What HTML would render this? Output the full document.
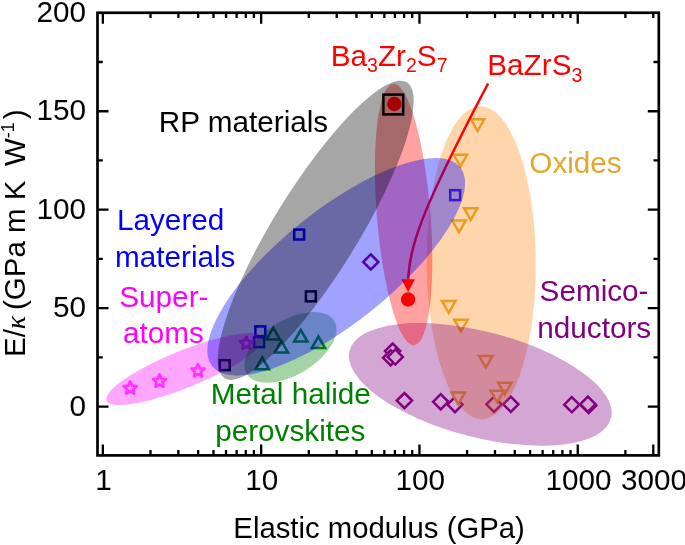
<!DOCTYPE html><html><head><meta charset="utf-8"><style>html,body{margin:0;padding:0;background:#fff}svg{display:block}</style></head><body><svg width="685" height="545" viewBox="0 0 685 545" font-family="Liberation Sans, sans-serif">
<rect width="685" height="545" fill="#fff"/>
<rect x="294.2" y="229.6" width="9.9" height="9.9" fill="#fff" stroke="#0000ff" stroke-width="2.5"/>
<rect x="255.4" y="326.4" width="9.9" height="9.9" fill="#fff" stroke="#0000ff" stroke-width="2.5"/>
<rect x="254.1" y="337.2" width="9.9" height="9.9" fill="#fff" stroke="#0000ff" stroke-width="2.5"/>
<rect x="450.2" y="190.2" width="9.9" height="9.9" fill="#fff" stroke="#0000ff" stroke-width="2.5"/>
<rect x="305.9" y="291.4" width="9.9" height="9.9" fill="#fff" stroke="#000" stroke-width="2.5"/>
<rect x="219.8" y="360.2" width="9.9" height="9.9" fill="#fff" stroke="#000" stroke-width="2.5"/>
<path d="M273.2 327.7L279.9 339.4L266.5 339.4Z" fill="#fff" stroke="#008000" stroke-width="2.5"/>
<path d="M281.4 340.9L288.1 352.6L274.7 352.6Z" fill="#fff" stroke="#008000" stroke-width="2.5"/>
<path d="M300.8 330.0L307.5 341.6L294.1 341.6Z" fill="#fff" stroke="#008000" stroke-width="2.5"/>
<path d="M318.4 336.5L325.1 348.1L311.7 348.1Z" fill="#fff" stroke="#008000" stroke-width="2.5"/>
<path d="M262.3 357.6L269.0 369.2L255.6 369.2Z" fill="#fff" stroke="#008000" stroke-width="2.5"/>
<path d="M370.8 254.4L378.4 262.0L370.8 269.6L363.2 262.0Z" fill="#fff" stroke="#800080" stroke-width="2.5" stroke-linejoin="miter"/>
<path d="M392.6 343.5L400.2 351.1L392.6 358.7L385.0 351.1Z" fill="#fff" stroke="#800080" stroke-width="2.5" stroke-linejoin="miter"/>
<path d="M390.7 350.2L398.3 357.8L390.7 365.4L383.1 357.8Z" fill="#fff" stroke="#800080" stroke-width="2.5" stroke-linejoin="miter"/>
<path d="M395.3 349.4L402.9 357.0L395.3 364.6L387.7 357.0Z" fill="#fff" stroke="#800080" stroke-width="2.5" stroke-linejoin="miter"/>
<path d="M404.4 393.0L412.0 400.6L404.4 408.2L396.8 400.6Z" fill="#fff" stroke="#800080" stroke-width="2.5" stroke-linejoin="miter"/>
<path d="M440.7 394.2L448.3 401.8L440.7 409.4L433.1 401.8Z" fill="#fff" stroke="#800080" stroke-width="2.5" stroke-linejoin="miter"/>
<path d="M455.0 397.0L462.6 404.6L455.0 412.2L447.4 404.6Z" fill="#fff" stroke="#800080" stroke-width="2.5" stroke-linejoin="miter"/>
<path d="M494.0 396.7L501.6 404.3L494.0 411.9L486.4 404.3Z" fill="#fff" stroke="#800080" stroke-width="2.5" stroke-linejoin="miter"/>
<path d="M510.8 396.7L518.4 404.3L510.8 411.9L503.2 404.3Z" fill="#fff" stroke="#800080" stroke-width="2.5" stroke-linejoin="miter"/>
<path d="M571.8 397.1L579.4 404.7L571.8 412.3L564.2 404.7Z" fill="#fff" stroke="#800080" stroke-width="2.5" stroke-linejoin="miter"/>
<path d="M588.7 397.8L596.3 405.4L588.7 413.0L581.1 405.4Z" fill="#fff" stroke="#800080" stroke-width="2.5" stroke-linejoin="miter"/>
<path d="M587.9 396.6L595.5 404.2L587.9 411.8L580.3 404.2Z" fill="#fff" stroke="#800080" stroke-width="2.5" stroke-linejoin="miter"/>
<path d="M477.6 131.0L484.3 119.3L470.9 119.3Z" fill="#fff" stroke="#e0aa30" stroke-width="2.5"/>
<path d="M460.4 166.4L467.1 154.8L453.7 154.8Z" fill="#fff" stroke="#e0aa30" stroke-width="2.5"/>
<path d="M470.7 219.8L477.4 208.2L464.0 208.2Z" fill="#fff" stroke="#e0aa30" stroke-width="2.5"/>
<path d="M459.0 232.2L465.7 220.6L452.3 220.6Z" fill="#fff" stroke="#e0aa30" stroke-width="2.5"/>
<path d="M448.7 312.8L455.4 301.1L442.0 301.1Z" fill="#fff" stroke="#e0aa30" stroke-width="2.5"/>
<path d="M461.0 331.4L467.7 319.8L454.3 319.8Z" fill="#fff" stroke="#e0aa30" stroke-width="2.5"/>
<path d="M485.8 367.6L492.5 355.9L479.1 355.9Z" fill="#fff" stroke="#e0aa30" stroke-width="2.5"/>
<path d="M504.9 394.4L511.6 382.8L498.2 382.8Z" fill="#fff" stroke="#e0aa30" stroke-width="2.5"/>
<path d="M497.3 402.4L504.0 390.8L490.6 390.8Z" fill="#fff" stroke="#e0aa30" stroke-width="2.5"/>
<path d="M458.2 404.3L464.9 392.6L451.5 392.6Z" fill="#fff" stroke="#e0aa30" stroke-width="2.5"/>
<path d="M130.2 381.5L132.1 385.7L136.6 386.1L133.2 389.2L134.1 393.6L130.2 391.3L126.3 393.6L127.2 389.2L123.8 386.1L128.3 385.7Z" fill="none" stroke="#ff50ff" stroke-width="2.9" stroke-linejoin="round"/>
<path d="M159.5 374.6L161.4 378.8L165.9 379.2L162.5 382.3L163.4 386.7L159.5 384.4L155.6 386.7L156.5 382.3L153.1 379.2L157.6 378.8Z" fill="none" stroke="#ff50ff" stroke-width="2.9" stroke-linejoin="round"/>
<path d="M197.9 364.2L199.8 368.4L204.3 368.8L200.9 371.9L201.8 376.3L197.9 374.0L194.0 376.3L194.9 371.9L191.5 368.8L196.0 368.4Z" fill="none" stroke="#ff50ff" stroke-width="2.9" stroke-linejoin="round"/>
<path d="M246.3 336.7L248.2 340.9L252.7 341.3L249.3 344.4L250.2 348.8L246.3 346.5L242.4 348.8L243.3 344.4L239.9 341.3L244.4 340.9Z" fill="none" stroke="#ff50ff" stroke-width="2.9" stroke-linejoin="round"/>
<circle cx="394.3" cy="104" r="7.2" fill="#f00"/>
<ellipse cx="481.2" cy="262.8" rx="54.6" ry="156.6" transform="rotate(-0.3 481.2 262.8)" fill="#ff8000" fill-opacity="0.33"/>
<path d="M488.1 83.5C417.9 216.5 408.8 249.8 408.2 281" fill="none" stroke="#f00" stroke-width="2.5"/>
<path d="M401.4 279.2L414.9 279.2L408.1 292Z" fill="#f00"/>
<circle cx="408.1" cy="299.5" r="7.2" fill="#f00"/>
<ellipse cx="184.6" cy="369" rx="84.3" ry="18.5" transform="rotate(-22.1 184.6 369)" fill="#ff00ff" fill-opacity="0.35"/>
<ellipse cx="290.4" cy="347.4" rx="51.2" ry="27.4" transform="rotate(-31 290.4 347.4)" fill="#008000" fill-opacity="0.35"/>
<ellipse cx="480.3" cy="384.4" rx="135" ry="52.8" transform="rotate(14.5 480.3 384.4)" fill="#800080" fill-opacity="0.35"/>
<ellipse cx="403.6" cy="214.5" rx="26.8" ry="131.2" transform="rotate(-4.6 403.6 214.5)" fill="#ff0000" fill-opacity="0.37"/>
<ellipse cx="336.2" cy="266.8" rx="159" ry="56.3" transform="rotate(-38.75 336.2 266.8)" fill="#0000ff" fill-opacity="0.37"/>
<ellipse cx="315.7" cy="230.3" rx="173.8" ry="42.3" transform="rotate(-58.35 315.7 230.3)" fill="#000000" fill-opacity="0.35"/>
<rect x="383.4" y="94.6" width="19.8" height="19.8" fill="none" stroke="#000" stroke-width="2.5"/>
<text x="158.8" y="132" font-size="29.7" fill="#000" text-anchor="start">RP materials</text>
<text x="330.8" y="66" font-size="29.7" fill="#f00">Ba<tspan font-size="19.5" dy="6.3">3</tspan><tspan dy="-6.3">Zr</tspan><tspan font-size="19.5" dy="6.3">2</tspan><tspan dy="-6.3">S</tspan><tspan font-size="19.5" dy="6.3">7</tspan></text>
<text x="487.3" y="75.2" font-size="29.7" fill="#f00">BaZrS<tspan font-size="19.5" dy="6.8">3</tspan></text>
<text x="529.3" y="172.8" font-size="29.7" fill="#e0a830" text-anchor="start">Oxides</text>
<text x="117" y="230" font-size="29.7" fill="#0000ff" text-anchor="start">Layered</text>
<text x="115" y="266.5" font-size="29.7" fill="#0000ff" text-anchor="start">materials</text>
<text x="119.3" y="306.8" font-size="29.7" fill="#ff00ff" text-anchor="start">Super-</text>
<text x="123" y="343.3" font-size="29.7" fill="#ff00ff" text-anchor="start">atoms</text>
<text x="210.8" y="404" font-size="29.7" fill="#008000" text-anchor="start">Metal halide</text>
<text x="215.2" y="441" font-size="29.7" fill="#008000" text-anchor="start">perovskites</text>
<text x="539.6" y="301" font-size="29.7" fill="#800080" text-anchor="start">Semico-</text>
<text x="537.3" y="338" font-size="29.7" fill="#800080" text-anchor="start">nductors</text>
<rect x="97.5" y="12.75" width="561.3" height="442.65" fill="none" stroke="#000" stroke-width="2.7"/>
<path d="M102.85 12.75v11M102.85 455.4v-11M150.50 12.75v5.3M150.50 455.4v-5.3M178.38 12.75v5.3M178.38 455.4v-5.3M198.16 12.75v5.3M198.16 455.4v-5.3M213.50 12.75v5.3M213.50 455.4v-5.3M226.03 12.75v5.3M226.03 455.4v-5.3M236.63 12.75v5.3M236.63 455.4v-5.3M245.81 12.75v5.3M245.81 455.4v-5.3M253.91 12.75v5.3M253.91 455.4v-5.3M261.15 12.75v11M261.15 455.4v-11M308.80 12.75v5.3M308.80 455.4v-5.3M336.68 12.75v5.3M336.68 455.4v-5.3M356.46 12.75v5.3M356.46 455.4v-5.3M371.80 12.75v5.3M371.80 455.4v-5.3M384.33 12.75v5.3M384.33 455.4v-5.3M394.93 12.75v5.3M394.93 455.4v-5.3M404.11 12.75v5.3M404.11 455.4v-5.3M412.21 12.75v5.3M412.21 455.4v-5.3M419.45 12.75v11M419.45 455.4v-11M467.10 12.75v5.3M467.10 455.4v-5.3M494.98 12.75v5.3M494.98 455.4v-5.3M514.76 12.75v5.3M514.76 455.4v-5.3M530.10 12.75v5.3M530.10 455.4v-5.3M542.63 12.75v5.3M542.63 455.4v-5.3M553.23 12.75v5.3M553.23 455.4v-5.3M562.41 12.75v5.3M562.41 455.4v-5.3M570.51 12.75v5.3M570.51 455.4v-5.3M577.75 12.75v11M577.75 455.4v-11M625.40 12.75v5.3M625.40 455.4v-5.3M653.28 12.75v5.3M653.28 455.4v-11M97.5 406.65h11M658.8 406.65h-11M97.5 357.41h5.3M658.8 357.41h-5.3M97.5 308.17h11M658.8 308.17h-11M97.5 258.94h5.3M658.8 258.94h-5.3M97.5 209.70h11M658.8 209.70h-11M97.5 160.46h5.3M658.8 160.46h-5.3M97.5 111.23h11M658.8 111.23h-11M97.5 61.99h5.3M658.8 61.99h-5.3" stroke="#000" stroke-width="2.3" fill="none"/>
<text x="86" y="415.6" font-size="29.7" text-anchor="end">0</text>
<text x="86" y="317.2" font-size="29.7" text-anchor="end">50</text>
<text x="86" y="218.7" font-size="29.7" text-anchor="end">100</text>
<text x="86" y="120.2" font-size="29.7" text-anchor="end">150</text>
<text x="86" y="21.8" font-size="29.7" text-anchor="end">200</text>
<text x="103.5" y="489.5" font-size="29.7" text-anchor="middle">1</text>
<text x="261.8" y="489.5" font-size="29.7" text-anchor="middle">10</text>
<text x="420.2" y="489.5" font-size="29.7" text-anchor="middle">100</text>
<text x="578.5" y="489.5" font-size="29.7" text-anchor="middle">1000</text>
<text x="654.0" y="489.5" font-size="29.7" text-anchor="middle">3000</text>
<text x="379.1" y="537.9" font-size="29.3" text-anchor="middle">Elastic modulus (GPa)</text>
<text transform="translate(24.8 357) rotate(-90)" font-size="29.5" xml:space="preserve">E/<tspan font-family="Liberation Serif, serif" font-style="italic" font-size="28">κ</tspan><tspan dx="-2.5"> (GPa m K </tspan><tspan dx="-2"> W</tspan><tspan font-size="18" dy="-11">-1</tspan><tspan dy="11" dx="3">)</tspan></text>
</svg></body></html>
